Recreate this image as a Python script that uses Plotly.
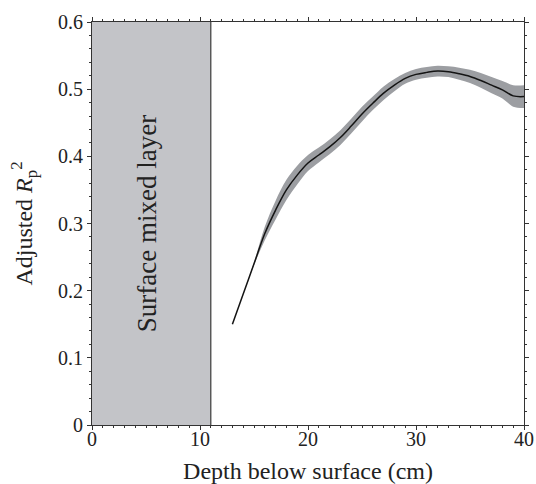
import plotly.graph_objects as go

depth = [13, 14, 15, 16, 17, 18, 19, 20, 21, 22, 23, 24, 25, 26, 27, 28, 29, 30,
         31, 32, 33, 34, 35, 36, 37, 38, 39, 40]
r2 = [0.150, 0.195, 0.240, 0.285, 0.320, 0.350, 0.372, 0.390, 0.402, 0.414, 0.428,
      0.445, 0.463, 0.479, 0.494, 0.506, 0.516, 0.522, 0.525, 0.527, 0.526, 0.523,
      0.519, 0.513, 0.506, 0.499, 0.490, 0.489]
r2_upper = [0.150, 0.195, 0.242, 0.295, 0.334, 0.365, 0.386, 0.402, 0.413, 0.425, 0.439,
            0.456, 0.474, 0.489, 0.504, 0.515, 0.524, 0.530, 0.533, 0.535, 0.534, 0.532,
            0.529, 0.524, 0.518, 0.512, 0.506, 0.506]
r2_lower = [0.150, 0.195, 0.238, 0.275, 0.306, 0.335, 0.358, 0.378, 0.391, 0.403, 0.417,
            0.434, 0.452, 0.469, 0.484, 0.497, 0.508, 0.514, 0.517, 0.519, 0.518, 0.514,
            0.509, 0.502, 0.494, 0.486, 0.474, 0.472]
x_tickvals = [0, 10, 20, 30, 40]
x_ticktext = ["0", "10", "20", "30", "40"]
y_tickvals = [0, 0.1, 0.2, 0.3, 0.4, 0.5, 0.6]
y_ticktext = ["0", "0.1", "0.2", "0.3", "0.4", "0.5", "0.6"]
mixed_layer_depth = 11
mixed_label = "Surface mixed layer"

FONT = "Liberation Serif"
TXT = "#222222"

fig = go.Figure()
fig.add_shape(type="rect", x0=0, x1=mixed_layer_depth, y0=0, y1=0.6, xref="x", yref="y",
              fillcolor="#c3c4c8", line_width=0, layer="below")
fig.add_shape(type="line", x0=mixed_layer_depth, x1=mixed_layer_depth, y0=0, y1=0.6,
              xref="x", yref="y", line=dict(color="#3a3a3a", width=1.2))

fig.add_trace(go.Scatter(x=depth, y=r2_upper, mode="lines", line=dict(width=0, color="#9c9ea2"),
                         line_shape="spline", showlegend=False, hoverinfo="skip"))
fig.add_trace(go.Scatter(x=depth, y=r2_lower, mode="lines", line=dict(width=0, color="#9c9ea2"),
                         line_shape="spline", fill="tonexty", fillcolor="#9c9ea2",
                         showlegend=False, hoverinfo="skip"))
fig.add_trace(go.Scatter(x=depth, y=r2, mode="lines", line=dict(color="#141414", width=1.5),
                         line_shape="spline", showlegend=False))

fig.add_annotation(x=5.1, y=0.299, xref="x", yref="y", text=mixed_label,
                   textangle=-90, showarrow=False, font=dict(family=FONT, size=27, color=TXT))

axis_common = dict(showline=True, linecolor="#333", linewidth=1, mirror="allticks",
                   ticks="outside", ticklen=4, tickcolor="#333", showgrid=False, zeroline=False,
                   automargin=False, tickfont=dict(family=FONT, size=20, color=TXT))

fig.update_xaxes(range=[0, 40], tickmode="array", tickvals=x_tickvals, ticktext=x_ticktext,
                 minor=dict(dtick=1, tick0=0, ticks="outside", ticklen=2, tickcolor="#333"),
                 ticklabelstandoff=-8,
                 title=dict(text="Depth below surface (cm)", font=dict(family=FONT, size=24, color=TXT),
                            standoff=18),
                 **axis_common)
fig.update_yaxes(range=[0, 0.6], tickmode="array", tickvals=y_tickvals, ticktext=y_ticktext,
                 minor=dict(dtick=0.02, tick0=0, ticks="outside", ticklen=2, tickcolor="#333"),
                 title=dict(text="Adjusted <i>R</i><sub>p</sub><sup>2</sup>",
                            font=dict(family=FONT, size=24, color=TXT), standoff=18),
                 **axis_common)

fig.update_layout(width=536, height=484, margin=dict(l=92, r=12, t=22, b=59),
                  plot_bgcolor="white", paper_bgcolor="white")

# remove the default page margin so the figure fills the window exactly
fig.write_html("out.html", config={"displayModeBar": False},
               post_script="document.body.style.margin='0';document.body.style.overflow='hidden';")
